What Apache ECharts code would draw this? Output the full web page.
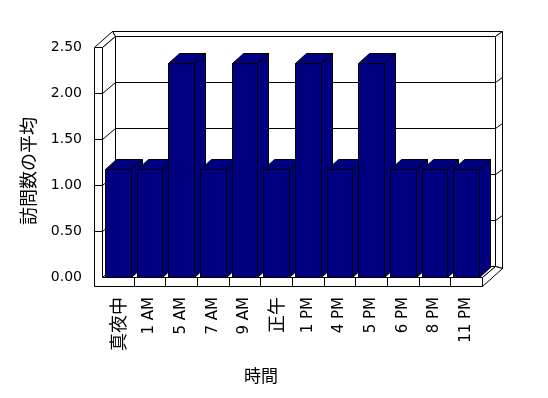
<!DOCTYPE html>
<html><head><meta charset="utf-8">
<script src="https://cdn.jsdelivr.net/npm/echarts@6/dist/echarts.min.js"></script>
<style>html,body{margin:0;padding:0;background:#fff}#c{width:548px;height:398px}</style>
</head><body><div id="c"></div>
<script>
const categories = ['真夜中','1 AM','5 AM','7 AM','9 AM','正午','1 PM','4 PM','5 PM','6 PM','8 PM','11 PM'];
const values = [1.17,1.17,2.33,1.17,2.33,1.17,2.33,1.17,2.33,1.17,1.17,1.17];
const yTicks = [0, 0.5, 1, 1.5, 2, 2.5];
const xAxisTitle = '時間';
const yAxisTitle = '訪問数の平均';

const WALL = [13, -11], BAR = [11, -10];
const isCJK = s => /[\u3000-\u9fff]/.test(s);
function P(p){return [Math.round(p[0])+0.5, Math.round(p[1])+0.5];}
function poly(pts, fill){return {type:'polygon', shape:{points: pts.map(P)}, style:{fill: fill, stroke:'#000', lineWidth:1}};}
function seg(a,b){const A=P(a),B=P(b);return {type:'line', shape:{x1:A[0],y1:A[1],x2:B[0],y2:B[1]}, style:{stroke:'#000', lineWidth:1}};}

function renderFrame(params, api){
  const cs = params.coordSys;
  const xL = cs.x, xR = cs.x+cs.width, yT = cs.y, yB = cs.y+cs.height;
  const dx=WALL[0], dy=WALL[1], W=8, FT=9;
  const BTL=[xL+dx,yT+dy], BTR=[xR+dx,yT+dy], BBR=[xR+dx,yB+dy], BBL=[xL+dx,yB+dy];
  const OTL=[xL+10,yT-16], OTR=[xR+20,yT-16], OBR=[xR+20,yB-9];
  const ch=[];
  ch.push(poly([BTL,BTR,BBR,BBL],'#fff'));
  ch.push(poly([OTL,OTR,BTR,BTL],'#fff'));
  ch.push(poly([BTR,OTR,OBR,BBR],'#fff'));
  ch.push(poly([[xL-W,yT],[xL,yT],BTL,OTL],'#fff'));
  ch.push(poly([[xL,yT],BTL,BBL,[xL,yB]],'#fff'));
  ch.push(poly([[xL,yB],[xR,yB],BBR,BBL],'#fff'));
  ch.push(poly([[xR,yB],BBR,OBR,[xR,yB+FT]],'#fff'));
  ch.push(poly([[xL-W,yT],[xL,yT],[xL,yB],[xR,yB],[xR,yB+FT],[xL-W,yB+FT]],'#fff'));
  yTicks.slice(1, -1).forEach(v=>{
    const y = api.coord([0,v])[1];
    ch.push(seg([xL-W,y],[xL,y]));
    ch.push(seg([xL,y],[xL+dx,y+dy]));
    ch.push(seg([xL+dx,y+dy],[xR+dx,y+dy]));
    ch.push(seg([xR+dx,y+dy],[xR+20,y+dy-5]));
  });
  const band = api.size([1,0])[0];
  for(let i=1;i<categories.length;i++){ const x = xL + i*band; ch.push(seg([x,yB],[x,yB+FT])); }
  return {type:'group', children: ch};
}

function renderBar(params, api){
  const idx = api.value(0), val = api.value(1);
  const top = api.coord([idx,val]), base = api.coord([idx,0]);
  const bw = api.size([1,0])[0]*0.81;
  const x0 = top[0]-bw/2, x1 = top[0]+bw/2, yt = top[1], yb = base[1];
  const dx = BAR[0], dy = BAR[1], c = '#000080';
  return {type:'group', children:[
    poly([[x1,yt],[x1+dx,yt+dy],[x1+dx,yb+dy],[x1,yb]], c),
    poly([[x0,yt],[x1,yt],[x1+dx,yt+dy],[x0+dx,yt+dy]], c),
    poly([[x0,yt],[x1,yt],[x1,yb],[x0,yb]], c)
  ]};
}

const chart = echarts.init(document.getElementById('c'), null, {renderer:'canvas'});
chart.setOption({
  animation: false,
  backgroundColor: '#fff',
  grid: {left: 102, right: 66, top: 47, bottom: 121},
  xAxis: {
    type: 'category',
    data: categories.map(c => isCJK(c) ? {value:c, textStyle:{fontFamily:'Noto Sans CJK JP', fontSize:18}} : c),
    axisLine: {show:false}, axisTick: {show:false}, splitLine: {show:false},
    axisLabel: {rotate: 90, margin: 20, interval: 0, color:'#000', fontFamily:'DejaVu Sans', fontSize: 15}
  },
  yAxis: {
    type: 'value', min: yTicks[0], max: yTicks[yTicks.length-1], interval: 0.5,
    axisLine: {show:false}, axisTick: {show:false}, splitLine: {show:false},
    axisLabel: {margin: 20, color:'#000', fontFamily:'DejaVu Sans', fontSize: 14, formatter: v => v.toFixed(2)}
  },
  series: [
    {type:'custom', z: 1, silent: true, renderItem: renderFrame, data: [[0,0]]},
    {type:'custom', z: 3, renderItem: renderBar, data: values.map((v,i)=>[i,v])}
  ],
  graphic: [
    {type:'text', x: 261, y: 376, style:{text: xAxisTitle, font:'17px "Noto Sans CJK JP"', fill:'#000', align:'center', verticalAlign:'middle', textAlign:'center', textVerticalAlign:'middle'}},
    {type:'text', x: 28, y: 171, rotation: Math.PI/2, style:{text: yAxisTitle, font:'18px "Noto Sans CJK JP"', fill:'#000', align:'center', verticalAlign:'middle', textAlign:'center', textVerticalAlign:'middle'}}
  ]
});
</script></body></html>
